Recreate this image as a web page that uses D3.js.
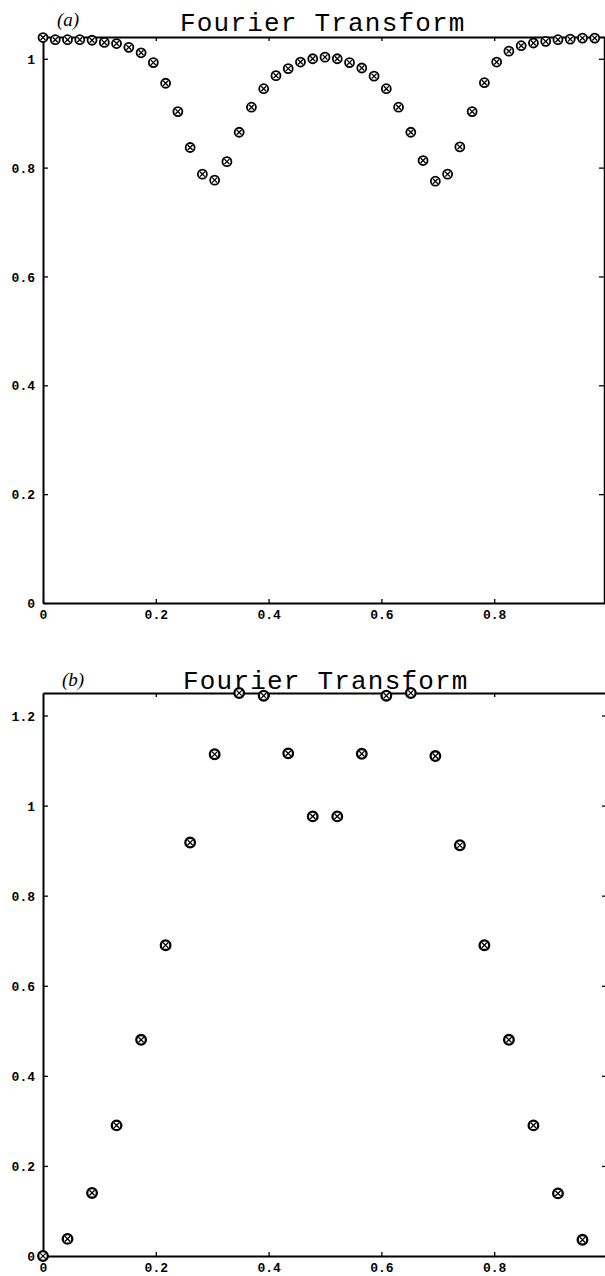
<!DOCTYPE html>
<html>
<head>
<meta charset="utf-8">
<script src="https://cdn.jsdelivr.net/npm/d3@7"></script>
<style>
  html, body { margin: 0; padding: 0; background: #fff; }
  svg { display: block; }
  .tick text { font-family: "Liberation Mono", "DejaVu Sans Mono", monospace; font-weight: bold; font-size: 13px; fill: #000; }
</style>
</head>
<body>
<svg id="chart" width="605" height="1276"></svg>
<script>
// ---- data ----
const titleText = "Fourier Transform";
const panelLabels = ["(a)", "(b)"];

// panel (a): |F| at frequencies k/46, k = 0..45
const freqA = [0,1,2,3,4,5,6,7,8,9,10,11,12,13,14,15,16,17,18,19,20,21,22,23,
               24,25,26,27,28,29,30,31,32,33,34,35,36,37,38,39,40,41,42,43,44,45];
const nA = 46;
const valuesA = [1.039,1.035,1.035,1.035,1.034,1.030,1.028,1.021,1.011,0.993,0.955,0.903,
                 0.837,0.788,0.777,0.811,0.865,0.911,0.945,0.969,0.982,0.994,1.000,1.003,
                 1.000,0.993,0.983,0.968,0.945,0.911,0.865,0.813,0.775,0.788,0.838,0.903,
                 0.956,0.994,1.014,1.024,1.029,1.032,1.035,1.036,1.038,1.038];

// panel (b): |F| at frequencies k/23, k = 0..22
const freqB = [0,1,2,3,4,5,6,7,8,9,10,11,12,13,14,15,16,17,18,19,20,21,22];
const nB = 23;
const valuesB = [0,0.038,0.140,0.290,0.480,0.690,0.918,1.114,1.250,1.244,1.116,0.976,
                 0.976,1.115,1.244,1.250,1.110,0.912,0.690,0.480,0.290,0.139,0.036];

const xTicks = [0, 0.2, 0.4, 0.6, 0.8];
const xTickLabels = ["0", "0.2", "0.4", "0.6", "0.8"];
const yTicksA = [0, 0.2, 0.4, 0.6, 0.8, 1];
const yTickLabelsA = ["0", "0.2", "0.4", "0.6", "0.8", "1"];
const yTicksB = [0, 0.2, 0.4, 0.6, 0.8, 1, 1.2];
const yTickLabelsB = ["0", "0.2", "0.4", "0.6", "0.8", "1", "1.2"];
const yMaxA = 1.04;
const yMaxB = 1.25;

// ---- drawing ----
const svg = d3.select("#chart");
svg.append("rect").attr("width", 605).attr("height", 1276).attr("fill", "#fff");

function panel(cfg) {
  const g = svg.append("g");
  const x = d3.scaleLinear().domain([0, 1]).range([43, 607]);
  const y = d3.scaleLinear().domain([0, cfg.yMax]).range([cfg.bottom, cfg.top]);

  const fmtX = d => xTickLabels[xTicks.indexOf(d)];
  const fmtY = d => cfg.yLabels[cfg.yTicks.indexOf(d)];

  const gb = g.append("g").attr("transform", `translate(0,${cfg.bottom})`)
    .call(d3.axisBottom(x).tickValues(xTicks).tickFormat(fmtX).tickSizeInner(-4).tickSizeOuter(0).tickPadding(8));
  const gt = g.append("g").attr("transform", `translate(0,${cfg.top})`)
    .call(d3.axisTop(x).tickValues(xTicks.slice(1)).tickFormat("").tickSizeInner(-4).tickSizeOuter(0));
  const gl = g.append("g").attr("transform", "translate(43,0)")
    .call(d3.axisLeft(y).tickValues(cfg.yTicks).tickFormat(fmtY).tickSizeInner(-5).tickSizeOuter(0).tickPadding(8));
  const gr = g.append("g").attr("transform", `translate(${cfg.rightX},0)`)
    .call(d3.axisRight(y).tickValues(cfg.yTicks.slice(1)).tickFormat("").tickSizeInner(-5).tickSizeOuter(0));

  [gb, gl].forEach(a => a.select(".domain").attr("stroke", "#000").attr("stroke-width", 2));
  gt.select(".domain").attr("stroke", "#000").attr("stroke-width", 1.8);
  gr.select(".domain").attr("stroke", "#000").attr("stroke-width", cfg.rightLine ? 1.5 : 0);
  g.selectAll(".tick line").attr("stroke", "#000").attr("stroke-width", 1.3);
  gb.selectAll(".tick text").attr("dy", "0.6em");
  gl.selectAll(".tick text").attr("dy", "0.35em");

  g.append("text").attr("x", cfg.titleX).attr("y", cfg.titleY)
    .attr("font-family", "'Liberation Mono', 'DejaVu Sans Mono', monospace")
    .attr("font-size", 26).attr("letter-spacing", 1.2).attr("fill", "#000")
    .text(titleText);
  g.append("text").attr("x", cfg.labX).attr("y", cfg.labY)
    .attr("font-family", "'Liberation Serif', 'DejaVu Serif', serif")
    .attr("font-style", "italic").attr("font-size", 19).attr("fill", "#000")
    .text(cfg.label);

  const pts = g.append("g").selectAll("g").data(cfg.freq.map((k, i) => ({f: k / cfg.n, v: cfg.vals[i]})))
    .enter().append("g")
    .attr("transform", d => `translate(${x(d.f)},${y(d.v)})`);
  pts.append("circle").attr("r", cfg.r).attr("fill", "#fff").attr("stroke", "#000").attr("stroke-width", cfg.sw);
  const c = cfg.r * 0.55;
  pts.append("path").attr("d", `M${-c},${-c}L${c},${c}M${-c},${c}L${c},${-c}`)
    .attr("stroke", "#000").attr("stroke-width", 1.3);
}

panel({top: 37, bottom: 603, yMax: yMaxA, yTicks: yTicksA, yLabels: yTickLabelsA,
       freq: freqA, n: nA, vals: valuesA, rightX: 604, rightLine: true,
       titleX: 180, titleY: 31, labX: 57, labY: 26, label: panelLabels[0], r: 4.5, sw: 1.8});
panel({top: 693, bottom: 1256, yMax: yMaxB, yTicks: yTicksB, yLabels: yTickLabelsB,
       freq: freqB, n: nB, vals: valuesB, rightX: 607, rightLine: false,
       titleX: 183, titleY: 689, labX: 62, labY: 686, label: panelLabels[1], r: 4.8, sw: 2.3});
</script>
</body>
</html>
